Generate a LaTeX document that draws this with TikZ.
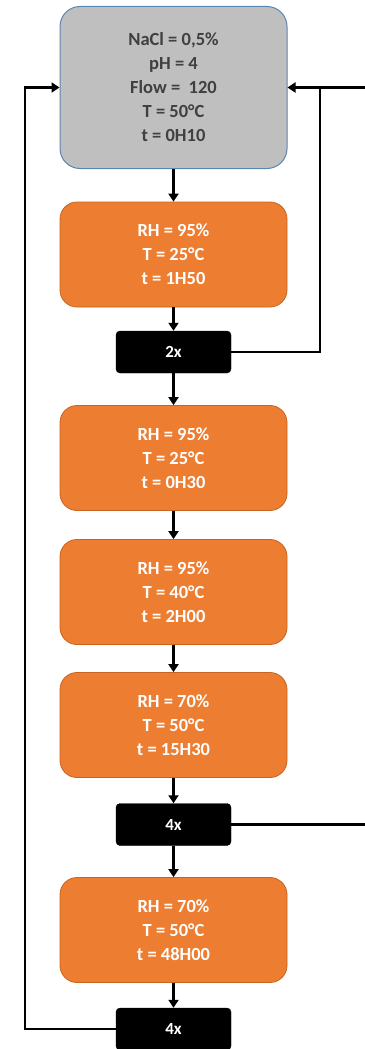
\documentclass[tikz,border=0pt]{standalone}
\usepackage{fontspec}
\setmainfont{Carlito}
\usetikzlibrary{arrows.meta}
\definecolor{boxgray}{HTML}{BFBFBF}
\definecolor{grayedge}{HTML}{5B86B0}
\definecolor{orangefill}{HTML}{ED7D31}
\definecolor{orangeedge}{HTML}{C9641F}
\definecolor{graytext}{HTML}{404040}
\tikzset{
  base/.style={align=center, font=\bfseries\fontsize{18.5}{24}\selectfont, inner sep=0pt},
  graybox/.style={base, fill=boxgray, draw=grayedge, line width=1pt, rounded corners=20pt, minimum width=227pt, minimum height=162pt, text=graytext},
  orangebox/.style={base, fill=orangefill, draw=orangeedge, line width=0.8pt, rounded corners=17pt, minimum width=227pt, minimum height=105pt, text=white},
  repbox/.style={base, fill=black, draw=black, rounded corners=4pt, minimum width=115pt, minimum height=42pt, text=white, font=\bfseries\fontsize{17}{20}\selectfont},
  conn/.style={line width=2.5pt, -{Triangle[length=8pt,width=10pt]}},
  plain/.style={line width=2.5pt}
}
\begin{document}
\begin{tikzpicture}[x=1pt,y=-1pt]
\useasboundingbox (0,0) rectangle (364,1049);
\node[graybox] (g) at (173.5,87.5) {NaCl = 0,5\%\\pH = 4\\Flow =\ \ 120\\T = 50°C\\t = 0H10};
\node[orangebox] (o1) at (173.5,254.5) {RH = 95\%\\T = 25°C\\t = 1H50};
\node[repbox] (r1) at (173.5,352) {2x};
\node[orangebox] (o2) at (173.5,458) {RH = 95\%\\T = 25°C\\t = 0H30};
\node[orangebox] (o3) at (173.5,592) {RH = 95\%\\T = 40°C\\t = 2H00};
\node[orangebox] (o4) at (173.5,725) {RH = 70\%\\T = 50°C\\t = 15H30};
\node[repbox] (r2) at (173.5,824.5) {4x};
\node[orangebox] (o5) at (173.5,930) {RH = 70\%\\T = 50°C\\t = 48H00};
\node[repbox] (r3) at (173.5,1029) {4x};
\draw[conn] (g) -- (o1);
\draw[conn] (o1) -- (r1);
\draw[conn] (r1) -- (o2);
\draw[conn] (o2) -- (o3);
\draw[conn] (o3) -- (o4);
\draw[conn] (o4) -- (r2);
\draw[conn] (r2) -- (o5);
\draw[conn] (o5) -- (r3);
\coordinate (rj) at (320,87.5);
\coordinate (redge) at (365,87.5);
\coordinate (r2edge) at (365,824.5);
\coordinate (lj) at (25,1029);
\draw[plain] (r1.east) -| (rj);
\draw[conn] (redge) -- (g.east);
\draw[plain] (r2.east) -- (r2edge);
\draw[conn] (r3.west) -- (lj) |- (g.west);
\end{tikzpicture}
\end{document}
